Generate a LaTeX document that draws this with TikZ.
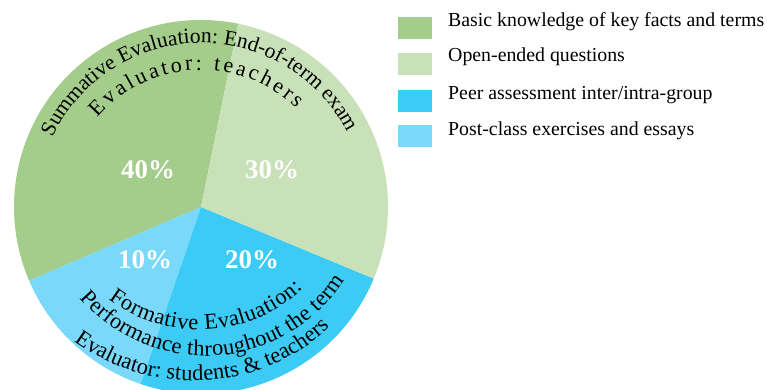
\documentclass[tikz,border=0pt]{standalone}
\usepackage{fontspec}
\setmainfont{Liberation Serif}
\usetikzlibrary{decorations.text}
\definecolor{dgreen}{HTML}{A4CC8A}
\definecolor{lgreen}{HTML}{C9E1B8}
\definecolor{dblue}{HTML}{3CCBF5}
\definecolor{lblue}{HTML}{7AD9FA}
\newcommand{\topfont}{\fontsize{21.6}{21.6}\selectfont}
\newcommand{\secfont}{\fontsize{22}{22}\selectfont}
\newcommand{\botfont}{\fontsize{22.5}{22.5}\selectfont}
\tikzset{
  pct/.style={text=white, font=\fontsize{27}{27}\selectfont\bfseries, inner sep=0pt},
  keybox/.style={minimum width=35, minimum height=23, inner sep=0pt, draw=none},
  keytext/.style={anchor=base west, inner sep=0pt, font=\fontsize{19.9}{19.9}\selectfont},
}
\begin{document}
\begin{tikzpicture}[x=1bp,y=1bp]
\useasboundingbox (0,0) rectangle (767,389);
\fill[white] (0,0) rectangle (767,389);
\coordinate (c) at (201,182);
\begin{scope}
\clip (0,0) rectangle (767,389);
\fill[dgreen] (c) -- ++(78.5:187) arc[start angle=78.5, end angle=203.2, radius=187] -- cycle;
\fill[lblue] (c) -- ++(203.2:187) arc[start angle=203.2, end angle=251.2, radius=187] -- cycle;
\fill[dblue] (c) -- ++(251.2:187) arc[start angle=251.2, end angle=337.5, radius=187] -- cycle;
\fill[lgreen] (c) -- ++(337.5:187) arc[start angle=337.5, end angle=438.5, radius=187] -- cycle;
\end{scope}
% percentages
\node[pct] (p40) at (148,219) {40\%};
\node[pct] (p30) at (272,219) {30\%};
\node[pct] (p10) at (145,129) {10\%};
\node[pct] (p20) at (252,129) {20\%};
% curved texts
\path[shift={(c)}, decorate, decoration={text along path, text align=center,
  text={|\topfont|Summative Evaluation: End-of-term exam}}]
  (156:164) arc[start angle=156, end angle=26, radius=164];
\path[shift={(c)}, decorate, decoration={text along path, text align=fit to path,
  text={|\secfont|Evaluator: teachers}}]
  (139:137) arc[start angle=139, end angle=46, radius=137];
\path[shift={(199.4,210.2)}, decorate, decoration={text along path, text align=fit to path,
  text={|\botfont|Formative Evaluation:}}]
  (-127:151) arc[start angle=-127, end angle=-46.8, radius=151];
\path[shift={(205.3,198)}, decorate, decoration={text along path, text align=fit to path,
  text={|\botfont|Performance throughout the term}}]
  (-139.5:165) arc[start angle=-139.5, end angle=-32.7, radius=165];
\path[shift={(193.5,208.2)}, decorate, decoration={text along path, text align=fit to path,
  text={|\botfont|Evaluator: students {\&} teachers}}]
  (-126.7:200) arc[start angle=-126.7, end angle=-47, radius=200];
% legend
\node[keybox, fill=dgreen] (k1) at (415,361) {};
\node[keybox, fill=lgreen] (k2) at (415,325) {};
\node[keybox, fill=dblue] (k3) at (415,288) {};
\node[keybox, fill=lblue] (k4) at (415,253) {};
\node[keytext] (t1) at (448,363) {Basic knowledge of key facts and terms};
\node[keytext] (t2) at (448,328) {Open-ended questions};
\node[keytext] (t3) at (448,290) {Peer assessment inter/intra-group};
\node[keytext] (t4) at (448,254) {Post-class exercises and essays};
\end{tikzpicture}
\end{document}
